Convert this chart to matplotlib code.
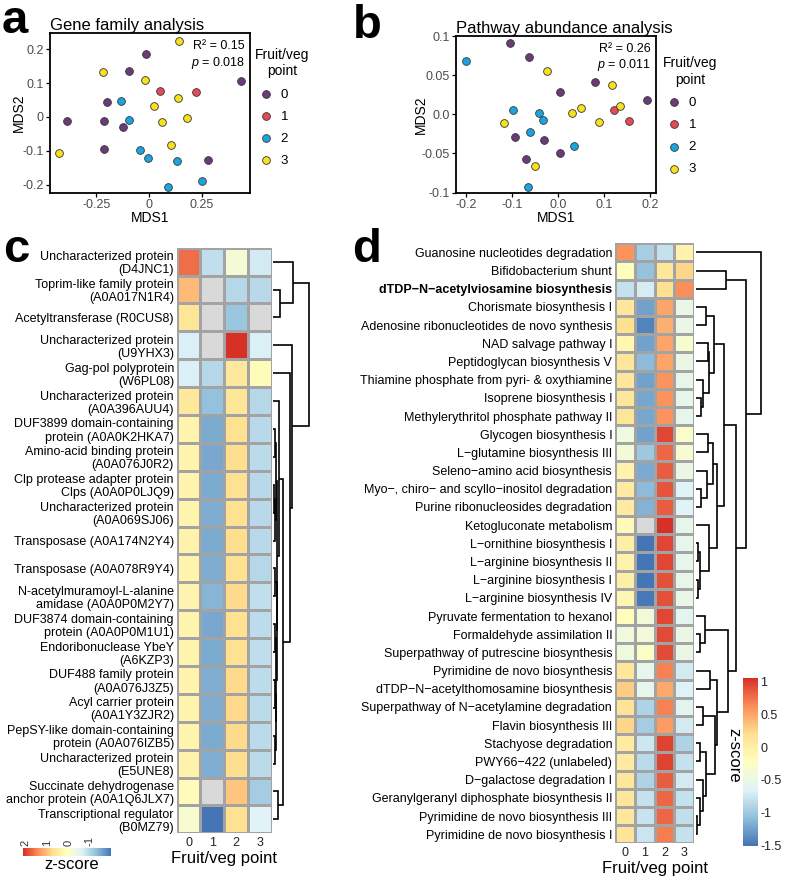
import matplotlib
matplotlib.use('Agg')
import matplotlib.pyplot as plt
import matplotlib.cm as cm
import numpy as np
from matplotlib.colors import LinearSegmentedColormap, Normalize

plt.rcParams['font.family'] = ['Liberation Sans', 'DejaVu Sans']
plt.rcParams['mathtext.fontset'] = 'custom'
plt.rcParams['mathtext.rm'] = 'Liberation Sans'
plt.rcParams['mathtext.it'] = 'Liberation Sans:italic'

W, H = 787, 880

# ---------------- data: MDS plots ----------------
point_labels = ['0', '1', '2', '3']
point_colors = ['#6B3A7B', '#E84A55', '#19A6E0', '#F7E01C']

a_mds1 = [-0.016, -0.093, -0.20, -0.39, -0.215, -0.125, -0.212, 0.281, 0.436,
          0.054, 0.224,
          -0.134, -0.093, -0.044, -0.006, 0.131, 0.092, 0.25,
          0.141, -0.218, -0.018, 0.139, 0.022, 0.062, 0.18, 0.103, -0.425]
a_mds2 = [0.185, 0.135, 0.043, -0.011, -0.011, -0.031, -0.096, -0.128, 0.105,
          0.076, 0.073,
          0.047, -0.009, -0.099, -0.122, -0.129, -0.206, -0.19,
          0.223, 0.134, 0.109, 0.055, 0.031, -0.016, -0.003, -0.083, -0.106]
a_group = [0] * 9 + [1] * 2 + [2] * 7 + [3] * 9

b_mds1 = [-0.104, -0.064, 0.004, 0.079, 0.193, -0.095, -0.031, -0.07, 0.003,
          0.12, 0.154,
          -0.20, -0.098, -0.041, -0.034, -0.062, 0.035, -0.065,
          -0.025, 0.116, 0.134, 0.05, 0.030, -0.118, 0.088, -0.051]
b_mds2 = [0.0905, 0.0736, 0.028, 0.041, 0.018, -0.029, -0.033, -0.057, -0.050,
          0.006, -0.009,
          0.068, 0.0055, 0.002, -0.0075, -0.022, -0.040, -0.0925,
          0.0555, 0.037, 0.0106, 0.0077, 0.0017, -0.011, -0.010, -0.0655]
b_group = [0] * 9 + [1] * 2 + [2] * 7 + [3] * 8

# ---------------- data: gene family heatmap (c) ----------------
nan = np.nan
c_labels = ['Uncharacterized protein\n(D4JNC1)',
            'Toprim-like family protein\n(A0A017N1R4)',
            'Acetyltransferase (R0CUS8)',
            'Uncharacterized protein\n(U9YHX3)',
            'Gag-pol polyprotein\n(W6PL08)',
            'Uncharacterized protein\n(A0A396AUU4)',
            'DUF3899 domain-containing\nprotein (A0A0K2HKA7)',
            'Amino-acid binding protein\n(A0A076J0R2)',
            'Clp protease adapter protein\nClps (A0A0P0LJQ9)',
            'Uncharacterized protein\n(A0A069SJ06)',
            'Transposase (A0A174N2Y4)',
            'Transposase (A0A078R9Y4)',
            'N-acetylmuramoyl-L-alanine\namidase (A0A0P0M2Y7)',
            'DUF3874 domain-containing\nprotein (A0A0P0M1U1)',
            'Endoribonuclease YbeY\n(A6KZP3)',
            'DUF488 family protein\n(A0A076J3Z5)',
            'Acyl carrier protein\n(A0A1Y3ZJR2)',
            'PepSY-like domain-containing\nprotein (A0A076IZB5)',
            'Uncharacterized protein\n(E5UNE8)',
            'Succinate dehydrogenase\nanchor protein (A0A1Q6JLX7)',
            'Transcriptional regulator\n(B0MZ79)']
c_values = [[1.65, -0.90, -0.20, -0.75],
            [1.05, nan, -1.00, -0.97],
            [0.60, nan, -1.22, nan],
            [-0.68, nan, 2.10, -0.68],
            [-0.68, -1.00, 0.55, 0.12],
            [0.55, -1.28, 0.60, -1.00],
            [0.30, -1.50, 0.72, -0.97],
            [0.30, -1.52, 0.75, -0.95],
            [0.32, -1.50, 0.70, -0.97],
            [0.30, -1.48, 0.72, -0.97],
            [0.33, -1.50, 0.75, -0.96],
            [0.30, -1.48, 0.72, -1.00],
            [0.28, -1.40, 0.78, -0.90],
            [0.30, -1.52, 0.72, -0.93],
            [0.30, -1.50, 0.70, -0.92],
            [0.32, -1.47, 0.78, -0.94],
            [0.30, -1.48, 0.80, -0.95],
            [0.30, -1.50, 0.78, -0.95],
            [0.33, -1.47, 0.75, -0.95],
            [0.10, nan, 0.95, -1.15],
            [-0.15, -2.00, 0.72, -0.62]]
# row dendrogram: (merge height, left, right), leaves are row numbers
c_tree = (1.0,
          (0.543, 0, (0.188, 1, 2)),
          (0.532, 3,
           (0.468, 4,
            (0.28,
             (0.154, 5,
              (0.112,
               (0.062, (0.034, 6, 7), (0.048, (0.028, 8, 9), 10)),
               (0.09, (0.048, 11, 12),
                (0.076, (0.034, 13, 14),
                 (0.062, (0.034, 15, 16), (0.048, 17, 18)))))),
             (0.14, 19, 20)))))

# ---------------- data: pathway heatmap (d) ----------------
d_labels = ['Guanosine nucleotides degradation',
            'Bifidobacterium shunt',
            'dTDP\u2212N\u2212acetylviosamine biosynthesis',
            'Chorismate biosynthesis I',
            'Adenosine ribonucleotides de novo synthesis',
            'NAD salvage pathway I',
            'Peptidoglycan biosynthesis V',
            'Thiamine phosphate from pyri- & oxythiamine',
            'Isoprene biosynthesis I',
            'Methylerythritol phosphate pathway II',
            'Glycogen biosynthesis I',
            'L\u2212glutamine biosynthesis III',
            'Seleno\u2212amino acid biosynthesis',
            'Myo\u2212, chiro\u2212 and scyllo\u2212inositol degradation',
            'Purine ribonucleosides degradation',
            'Ketogluconate metabolism',
            'L\u2212ornithine biosynthesis I',
            'L\u2212arginine biosynthesis II',
            'L\u2212arginine biosynthesis I',
            'L\u2212arginine biosynthesis IV',
            'Pyruvate fermentation to hexanol',
            'Formaldehyde assimilation II',
            'Superpathway of putrescine biosynthesis',
            'Pyrimidine de novo biosynthesis',
            'dTDP\u2212N\u2212acetylthomosamine biosynthesis',
            'Superpathway of N\u2212acetylamine degradation',
            'Flavin biosynthesis III',
            'Stachyose degradation',
            'PWY66\u2212422 (unlabeled)',
            'D\u2212galactose degradation I',
            'Geranylgeranyl diphosphate biosynthesis II',
            'Pyrimidine de novo biosynthesis III',
            'Pyrimidine de novo biosynthesis I']
d_bold = [2]
d_values = [[0.60, -0.95, -0.80, -0.05],
            [-0.20, -1.05, 0.10, 0.25],
            [-0.80, -0.70, 0.20, 0.62],
            [0.10, -1.25, 0.50, -0.50],
            [0.20, -1.42, 0.45, -0.50],
            [-0.10, -1.25, 0.50, -0.35],
            [0.10, -1.10, 0.50, -0.50],
            [0.10, -1.25, 0.60, -0.55],
            [0.10, -1.22, 0.60, -0.55],
            [0.12, -1.22, 0.60, -0.55],
            [-0.45, -1.25, 0.95, -0.30],
            [-0.40, -1.00, 0.80, -0.35],
            [-0.05, -1.20, 0.85, -0.50],
            [0.05, -1.10, 0.88, -0.65],
            [0.05, -1.15, 0.85, -0.65],
            [-0.15, nan, 1.05, -0.55],
            [0.00, -1.50, 0.95, -0.55],
            [-0.05, -1.50, 0.95, -0.55],
            [0.00, -1.50, 0.90, -0.55],
            [-0.10, -1.48, 0.90, -0.52],
            [-0.20, -0.42, 0.95, -0.60],
            [-0.45, -0.42, 0.93, -0.50],
            [-0.45, -0.28, 0.92, -0.50],
            [0.10, -0.55, 0.68, -0.72],
            [0.30, -0.55, 0.48, -0.66],
            [0.15, -0.92, 0.68, -0.60],
            [0.25, -0.97, 0.55, -0.72],
            [0.05, -0.75, 0.97, -0.92],
            [0.05, -0.85, 0.97, -0.80],
            [0.10, -0.92, 0.85, -0.72],
            [0.10, -0.80, 0.80, -0.80],
            [0.10, -0.78, 0.80, -0.82],
            [0.15, -0.77, 0.70, -0.80]]
d_tree = (1.0, 0,
          (0.77, (0.46, 1, 2),
           (0.615,
            (0.43,
             (0.277, (0.154, 3, 4),
              (0.20, (0.177, 5, 6), (0.10, 7, (0.077, 8, 9)))),
             (0.33,
              (0.255, (0.177, 10, 11), (0.17, 12, (0.077, 13, 14))),
              (0.20, 15, (0.06, (0.025, 16, 17), (0.035, 18, 19))))),
            (0.49,
             (0.138, 20, (0.06, 21, 22)),
             (0.323, (0.215, 23, 24),
              (0.292, (0.108, 25, 26),
               (0.154, (0.06, 27, 28),
                (0.108, 29, (0.054, 30, (0.023, 31, 32))))))))))

columns = ['0', '1', '2', '3']

hm_cmap = LinearSegmentedColormap.from_list(
    'rdylbu7', ['#4575B4', '#91BFDB', '#E0F3F8', '#FFFFBF', '#FEE090', '#FC8D59', '#D73027'])
hm_cmap.set_bad('#D9D9D9')
norm_c = Normalize(vmin=-2.0, vmax=2.1)
norm_d = Normalize(vmin=-1.5, vmax=1.05)

TICK_GREY = '#4D4D4D'


def box(x0, y0, x1, y1):
    return [x0 / W, 1 - y1 / H, (x1 - x0) / W, (y1 - y0) / H]


def mds_panel(ax, xs, ys, groups, title, stats, ylabelpad):
    for g in range(len(point_labels)):
        px = [x for x, k in zip(xs, groups) if k == g]
        py = [y for y, k in zip(ys, groups) if k == g]
        ax.scatter(px, py, s=31, c=point_colors[g], edgecolors='#333333', linewidths=0.6,
                   zorder=3, label=point_labels[g])
    for s in ax.spines.values():
        s.set_linewidth(1.3)
    ax.tick_params(length=3, width=0.9, labelsize=9, labelcolor=TICK_GREY, pad=1.5)
    ax.set_xlabel('MDS1', fontsize=10, labelpad=0)
    ax.set_ylabel('MDS2', fontsize=10, labelpad=ylabelpad)
    ax.set_title(title, loc='left', fontsize=12, pad=2)
    ax.text(0.975, 0.955, 'R\u00b2 = ' + stats[0], transform=ax.transAxes, ha='right', va='top',
            fontsize=9)
    ax.text(0.975, 0.865, '$p$ = ' + stats[1], transform=ax.transAxes, ha='right', va='top',
            fontsize=9)


def mds_legend(ax, anchor):
    leg = ax.legend(title='Fruit/veg\npoint', loc='upper left', bbox_to_anchor=anchor,
                    frameon=False, fontsize=9.5, title_fontsize=10, handletextpad=0.25,
                    labelspacing=0.75, borderaxespad=0, borderpad=0, handlelength=1.7,
                    alignment='left')
    leg.get_title().set_multialignment('center')
    return leg


def draw_tree(ax, node, lw=1.2):
    if isinstance(node, int):
        return node + 0.5, 0.0
    h, left, right = node
    y1, h1 = draw_tree(ax, left, lw)
    y2, h2 = draw_tree(ax, right, lw)
    ax.plot([h1, h, h, h2], [y1, y1, y2, y2], color='black', lw=lw, clip_on=False,
            solid_joinstyle='miter', solid_capstyle='butt')
    return (y1 + y2) / 2, h


def heatmap(ax, values, labels, norm, label_size=9, bold=()):
    data = np.ma.masked_invalid(np.array(values, dtype=float))
    ax.pcolormesh(data, cmap=hm_cmap, norm=norm, edgecolors='#A3A3A3', linewidth=0.9)
    ax.set_xlim(0, len(columns))
    ax.set_ylim(len(labels), 0)
    ax.set_yticks(np.arange(len(labels)) + 0.5)
    ax.set_yticklabels(labels, fontsize=label_size)
    ax.set_xticks(np.arange(len(columns)) + 0.5)
    ax.set_xticklabels(columns, fontsize=9)
    ax.tick_params(length=0, pad=2)
    ax.tick_params(axis='x', labelcolor='#222222', pad=3)
    for t in ax.get_yticklabels():
        t.set_linespacing(1.12)
    for i in bold:
        ax.get_yticklabels()[i].set_fontweight('bold')
    for s in ax.spines.values():
        s.set_visible(False)
    ax.set_xlabel('Fruit/veg point', fontsize=12, labelpad=1)


fig = plt.figure(figsize=(W / 100, H / 100), dpi=100)

# ---- a
ax_a = fig.add_axes(box(50, 33, 250, 193))
mds_panel(ax_a, a_mds1, a_mds2, a_group, 'Gene family analysis', ('0.15', '0.018'), -2.5)
ax_a.set_xlim(-0.47, 0.479)
ax_a.set_ylim(-0.225, 0.248)
ax_a.set_xticks([-0.25, 0, 0.25])
ax_a.set_xticklabels(['-0.25', '0', '0.25'])
ax_a.set_yticks([-0.2, -0.1, 0, 0.1, 0.2])
ax_a.set_yticklabels(['-0.2', '-0.1', '0', '0.1', '0.2'])
mds_legend(ax_a, (1.025, 0.905))

# ---- b
ax_b = fig.add_axes(box(456, 36, 656, 193))
mds_panel(ax_b, b_mds1, b_mds2, b_group, 'Pathway abundance analysis', ('0.26', '0.011'), -4.5)
ax_b.set_xlim(-0.222, 0.212)
ax_b.set_ylim(-0.1005, 0.0995)
ax_b.set_xticks([-0.2, -0.1, 0, 0.1, 0.2])
ax_b.set_xticklabels(['-0.2', '-0.1', '0.0', '0.1', '0.2'])
ax_b.set_yticks([-0.1, -0.05, 0, 0.05, 0.1])
ax_b.set_yticklabels(['-0.1', '-0.05', '0.0', '0.05', '0.1'])
mds_legend(ax_b, (1.035, 0.87))

# ---- c
ax_c = fig.add_axes(box(176.7, 247.7, 271.7, 833.3))
heatmap(ax_c, c_values, c_labels, norm_c)
den_c = fig.add_axes(box(273.3, 247.7, 309, 833.3))
den_c.set_xlim(0, 1)
den_c.set_ylim(len(c_labels), 0)
den_c.axis('off')
draw_tree(den_c, c_tree)

cax_c = fig.add_axes(box(23.3, 847.7, 111, 856))
cb_c = fig.colorbar(cm.ScalarMappable(norm=norm_c, cmap=hm_cmap), cax=cax_c,
                    orientation='horizontal')
cax_c.invert_xaxis()
cb_c.set_ticks([2, 1, 0, -1])
cb_c.set_ticklabels(['2', '1', '0', '-1'])
cax_c.xaxis.set_ticks_position('top')
cax_c.tick_params(length=0, labelsize=8, labelrotation=90, pad=1, labelcolor='#333333')
cb_c.outline.set_visible(False)
fig.text(72 / W, 1 - 864 / H, 'z-score', fontsize=12, ha='center', va='center')

# ---- d
ax_d = fig.add_axes(box(615, 243.3, 694, 843.3))
heatmap(ax_d, d_values, d_labels, norm_d, bold=d_bold)
den_d = fig.add_axes(box(696, 243.3, 761, 843.3))
den_d.set_xlim(0, 1)
den_d.set_ylim(len(d_labels), 0)
den_d.axis('off')
draw_tree(den_d, d_tree)

cax_d = fig.add_axes(box(743.3, 678, 757.7, 845.7))
cb_d = fig.colorbar(cm.ScalarMappable(norm=norm_d, cmap=hm_cmap), cax=cax_d)
cb_d.set_ticks([1, 0.5, 0, -0.5, -1, -1.5])
cb_d.set_ticklabels(['1', '0.5', '0', '-0.5', '-1', '-1.5'])
cax_d.tick_params(length=0, labelsize=9, pad=2, labelcolor='#222222')
cb_d.outline.set_visible(False)
fig.text(734 / W, 1 - 755 / H, 'z-score', fontsize=12, ha='center', va='center', rotation=270)

# ---- panel letters
for letter, x, y in [('a', 2, 33), ('b', 353, 38), ('c', 3, 262), ('d', 352, 262)]:
    fig.text(x / W, 1 - y / H, letter, fontsize=34, fontweight='bold', ha='left', va='baseline')

fig.savefig('out.png', dpi=100)
